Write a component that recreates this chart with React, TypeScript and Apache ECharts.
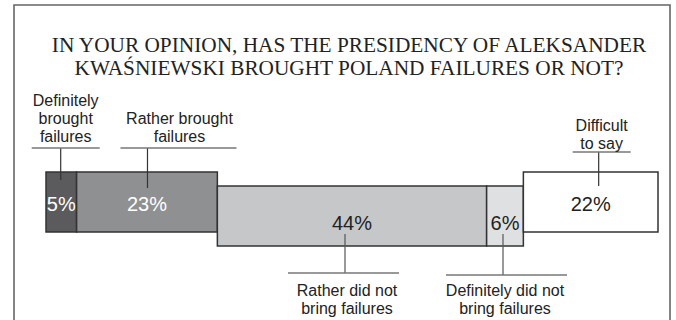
import React, { useEffect, useRef } from "react";
import * as echarts from "echarts";

// ---- data ----
const titleLines = [
  "IN YOUR OPINION, HAS THE PRESIDENCY OF ALEKSANDER",
  "KWAŚNIEWSKI BROUGHT POLAND FAILURES OR NOT?",
];
const categories = [
  "Definitely\nbrought\nfailures",
  "Rather brought\nfailures",
  "Rather did not\nbring failures",
  "Definitely did not\nbring failures",
  "Difficult\nto say",
];
const values = [5, 23, 44, 6, 22];
const valueLabels = values.map((v) => v + "%");

// ---- layout / style (pixels) ----
const rows = [0, 0, 1, 1, 0]; // 0 = upper row (annotation above), 1 = lower row (annotation below)
const fills = ["#5b5b5d", "#8f9092", "#c6c7c8", "#dfe0e1", "#ffffff"];
const labelColors = ["#ffffff", "#ffffff", "#222222", "#222222", "#222222"];
const leaderDx = [-0.6, 0.5, -7, -2, 8];
const leaderInset = [8, 16, 12, 12, 14];
const underlineGap = [24, 24, 27, 29, 20];
const underlineLeft = [-29, -27, -57, -57, -26];
const underlineRight = [39, 89, 54, 64, 32];
const noteDx = [5, 32, 2, 2, 3];
const noteGap = [2.6, 2.6, 8, 6, 0];
const ROW_SHIFT = 14;
const BAR_H = 60;
const labelDy = [31.5, 37];

export default function App() {
  const ref = useRef<HTMLDivElement>(null);
  useEffect(() => {
    if (!ref.current) return;
    const chart = echarts.init(ref.current, undefined, { renderer: "svg" });
    let acc = 0;
    const data = values.map((v) => {
      const s = acc;
      acc += v;
      return [s, acc];
    });
    const renderItem = (params: any, api: any) => {
      const i = params.dataIndex;
      const cs = params.coordSys;
      const x0 = api.coord([api.value(0), 0])[0];
      const x1 = api.coord([api.value(1), 0])[0];
      const row = rows[i];
      const top = cs.y + row * ROW_SHIFT;
      const bottom = top + BAR_H;
      const cx = (x0 + x1) / 2;
      const lx = cx + leaderDx[i];
      const children: any[] = [
        {
          type: "rect",
          shape: { x: x0, y: top, width: x1 - x0, height: BAR_H },
          style: { fill: fills[i], stroke: "#333333", lineWidth: 1.5 },
        },
        {
          type: "text",
          style: {
            text: valueLabels[i],
            x: cx,
            y: top + labelDy[row],
            align: "center",
            verticalAlign: "middle",
            fontSize: 20,
            fontFamily: "Liberation Sans",
            fill: labelColors[i],
          },
        },
      ];
      if (row === 0) {
        const uy = top - underlineGap[i];
        children.push(
          { type: "line", shape: { x1: lx, y1: uy, x2: lx, y2: top + leaderInset[i] }, style: { stroke: "#333333", lineWidth: 1.2 } },
          { type: "line", shape: { x1: lx + underlineLeft[i], y1: uy, x2: lx + underlineRight[i], y2: uy }, style: { stroke: "#777777", lineWidth: 1.3 } },
          {
            type: "text",
            style: {
              text: categories[i],
              x: lx + noteDx[i],
              y: uy - noteGap[i],
              align: "center",
              verticalAlign: "bottom",
              fontSize: 16,
              lineHeight: 18,
              fontFamily: "Liberation Sans",
              fill: "#222222",
            },
          }
        );
      } else {
        const uy = bottom + underlineGap[i];
        children.push(
          { type: "line", shape: { x1: lx, y1: bottom - leaderInset[i], x2: lx, y2: uy }, style: { stroke: "#555555", lineWidth: 1.2 } },
          { type: "line", shape: { x1: lx + underlineLeft[i], y1: uy, x2: lx + underlineRight[i], y2: uy }, style: { stroke: "#777777", lineWidth: 1.3 } },
          {
            type: "text",
            style: {
              text: categories[i],
              x: lx + noteDx[i],
              y: uy + noteGap[i],
              align: "center",
              verticalAlign: "top",
              fontSize: 16,
              lineHeight: 18,
              fontFamily: "Liberation Sans",
              fill: "#222222",
            },
          }
        );
      }
      return { type: "group", children };
    };
    chart.setOption({
      animation: false,
      backgroundColor: "#ffffff",
      title: {
        text: titleLines.join("\n"),
        left: 344,
        top: 29,
        textAlign: "center",
        textStyle: {
          fontFamily: "Liberation Serif",
          fontSize: 21.3,
          fontWeight: "normal",
          color: "#222222",
          lineHeight: 22.5,
        },
      },
      grid: { left: 46, right: 18, top: 172, height: 74 },
      xAxis: { type: "value", min: 0, max: 100, show: false },
      yAxis: { type: "value", min: 0, max: 1, show: false },
      graphic: [
        {
          type: "rect",
          shape: { x: 14, y: 5, width: 656, height: 340 },
          style: { fill: "none", stroke: "#666666", lineWidth: 1.6 },
          z: -1,
        },
      ],
      series: [
        {
          type: "custom",
          renderItem,
          clip: false,
          data,
        },
      ],
    });
    return () => chart.dispose();
  }, []);
  return (
    <div
      ref={ref}
      style={{ position: "fixed", left: 0, top: 0, width: 676, height: 320 }}
    />
  );
}
